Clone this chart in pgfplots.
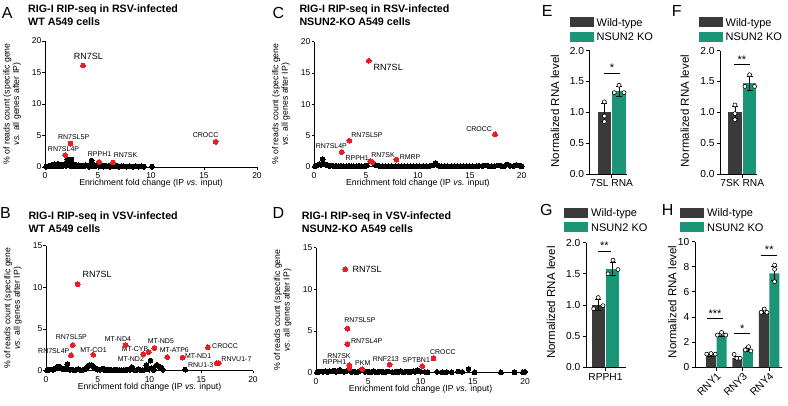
\documentclass[border=0pt]{standalone}
\usepackage{pgfplots}
\pgfplotsset{compat=1.18}
\usepackage{fontspec}
\setmainfont{Liberation Sans}
\definecolor{ptred}{RGB}{237,28,36}
\definecolor{wtgray}{RGB}{58,58,58}
\definecolor{kogreen}{RGB}{26,150,118}
\newcommand{\fs}[1]{\fontsize{#1}{#1}\selectfont}
\tikzset{
  lab/.style={font=\fs{7}, inner sep=0pt},
  big/.style={font=\fs{9}, inner sep=0pt},
}
\pgfplotsset{
  scat/.style={
    scale only axis, axis lines=left, axis line style={-, line width=0.8pt},
    xmin=0, xmax=20, xtick={0,5,10,15,20}, ymin=0,
    tick align=outside, major tick length=2.5pt,
    tick style={black, line width=0.8pt},
    ticklabel style={font=\fs{8.5}, inner sep=1pt},
    xticklabel style={yshift=-2pt},
    /pgf/number format/assume math mode=true,
    clip=false,
    xlabel={Enrichment fold change (IP \textit{vs.} input)},
    xlabel style={font=\fs{8.7}, at={(axis description cs:0.5,0)}, anchor=base, yshift=-18.5pt, inner sep=0pt},
    ylabel={\% of reads count (specific gene\\\textit{vs.} all genes after IP)},
    ylabel style={font=\fontsize{8.7}{9.5}\selectfont, align=center, anchor=center, inner sep=0pt},
  },
  blk/.style={only marks, mark=*, mark size=2.4pt, color=black, mark options={draw=black, fill=black, line width=0pt}},
  rd/.style={only marks, mark=*, mark size=2.4pt, color=ptred, mark options={draw=ptred, fill=ptred, line width=0pt}},
  barax/.style={
    scale only axis, axis lines=left, axis line style={-, line width=0.9pt},
    ymin=0, tick align=outside, major tick length=3.5pt,
    tick style={black, line width=0.9pt},
    ticklabel style={font=\fs{10.2}, inner sep=2pt},
    /pgf/number format/assume math mode=true,
    clip=false,
    ylabel={Normalized RNA level},
    ylabel style={font=\fs{11.5}, anchor=center, inner sep=0pt},
    error bars/error bar style={line width=0.8pt, black},
    error bars/error mark options={rotate=90, mark size=3pt, line width=0.8pt, black},
  },
  wtbar/.style={ybar, bar shift=0pt, fill=wtgray, draw=none, bar width=#1, error bars/.cd, y dir=both, y explicit},
  kobar/.style={ybar, bar shift=0pt, fill=kogreen, draw=none, bar width=#1, error bars/.cd, y dir=both, y explicit},
  dots/.style={only marks, mark=*, mark size=2pt, mark options={fill=white, draw=black, line width=0.6pt}},
}
\begin{document}
\begin{tikzpicture}
\useasboundingbox (0,0) rectangle (788pt,-405pt);
% ---------- Titles and panel letters
\node[anchor=base west, inner sep=0, font=\fs{16}] at (1.7pt,-18.3pt) {A};
\node[anchor=base west, inner sep=0, font=\fs{16}] at (0pt,-218.3pt) {B};
\node[anchor=base west, inner sep=0, font=\fs{16}] at (272.3pt,-18.3pt) {C};
\node[anchor=base west, inner sep=0, font=\fs{16}] at (272.3pt,-218.3pt) {D};
\node[anchor=base west, inner sep=0, font=\fs{16}] at (541.7pt,-16.7pt) {E};
\node[anchor=base west, inner sep=0, font=\fs{16}] at (671.7pt,-16.7pt) {F};
\node[anchor=base west, inner sep=0, font=\fs{16}] at (540pt,-215pt) {G};
\node[anchor=base west, inner sep=0, font=\fs{16}] at (661.7pt,-215pt) {H};
\node[anchor=base west, inner sep=0, font=\bfseries\fs{10.7}] at (28pt,-12.7pt) {RIG-I RIP-seq in RSV-infected};
\node[anchor=base west, inner sep=0, font=\bfseries\fs{10.7}] at (28pt,-25.7pt) {WT A549 cells};
\node[anchor=base west, inner sep=0, font=\bfseries\fs{10.7}] at (28.3pt,-219pt) {RIG-I RIP-seq in VSV-infected};
\node[anchor=base west, inner sep=0, font=\bfseries\fs{10.7}] at (28.3pt,-232pt) {WT A549 cells};
\node[anchor=base west, inner sep=0, font=\bfseries\fs{10.7}] at (299.3pt,-12.7pt) {RIG-I RIP-seq in RSV-infected};
\node[anchor=base west, inner sep=0, font=\bfseries\fs{10.7}] at (299.3pt,-25.7pt) {NSUN2-KO A549 cells};
\node[anchor=base west, inner sep=0, font=\bfseries\fs{10.7}] at (301.7pt,-219.5pt) {RIG-I RIP-seq in VSV-infected};
\node[anchor=base west, inner sep=0, font=\bfseries\fs{10.7}] at (301.7pt,-232.5pt) {NSUN2-KO A549 cells};
% ---------- Legends
\foreach \bx/\tx/\ya/\yb in {570/596.5/17/27, 699/725.5/17/27, 564.3/591/207.7/217.7, 680/707/207.7/217.7}{
  \fill[wtgray] (\bx pt,-\ya pt) rectangle ({\bx pt+24pt},-\yb pt);
  \fill[kogreen] ({\bx pt},{-\ya pt-14.5pt}) rectangle ({\bx pt+24pt},{-\yb pt-14.5pt});
  \node[anchor=base west, inner sep=0, font=\fs{11}] at (\tx pt,{-\yb pt+1pt}) {Wild-type};
  \node[anchor=base west, inner sep=0, font=\fs{11}] at (\tx pt,{-\yb pt-13.5pt}) {NSUN2 KO};
}
% ---------- Panel A
\begin{axis}[scat, at={(45pt,-167pt)}, anchor=south west, width=212pt, height=126pt,
  ymax=20, ytick={0,5,10,15,20}, ylabel style={at={(axis description cs:-0.155,0.5)}}]
\addplot[blk] coordinates {(0.1,0.05) (0.3,0.15) (0.5,0.1) (0.6,0.3) (0.8,0.2) (0.9,0.45) (1.0,0.1) (1.1,0.35) (1.2,0.5) (1.3,0.2) (1.45,0.4) (1.6,0.1) (1.7,0.3) (1.85,0.45) (2.0,0.2) (2.1,1.2) (2.15,0.5) (2.3,0.3) (2.45,0.1) (2.5,1.2) (2.6,0.4) (2.75,0.2) (2.9,0.35) (3.05,0.1) (3.2,0.3) (3.35,0.15) (3.5,0.25) (3.7,0.1) (3.85,0.3) (4.0,0.2) (4.15,0.05) (4.3,0.25) (4.4,1.0) (4.5,0.1) (4.65,0.3) (4.8,0.15) (5.0,0.3) (5.2,0.1) (5.35,0.2) (5.5,0.05) (5.65,0.25) (5.8,0.1) (6.0,0.2) (6.15,0.05) (6.35,0.15) (6.6,0.1) (6.8,0.2) (7.0,0.05) (7.2,0.15) (7.45,0.1) (7.7,0.05) (8.0,0.1) (8.3,0.05) (8.55,0.1) (8.8,0.05) (9.1,0.1) (9.35,0.05) (10.1,0.05)};
\addplot[rd] coordinates {(3.6,16.1) (2.4,3.7) (1.9,1.9) (5.1,0.8) (6.4,0.7) (16.1,4.0)};
\node[big] at (axis cs:4.1,17.5) {RN7SL};
\node[lab] at (axis cs:2.7,4.8) {RN7SL5P};
\node[lab] at (axis cs:1.75,2.86) {RN7SL4P};
\node[lab] at (axis cs:5.15,2.0) {RPPH1};
\node[lab] at (axis cs:7.6,1.85) {RN7SK};
\node[lab] at (axis cs:15.15,5.0) {CROCC};
\end{axis}
% ---------- Panel B
\begin{axis}[scat, at={(46pt,-370.7pt)}, anchor=south west, width=207pt, height=125pt,
  ymax=15, ytick={0,5,10,15}, ylabel style={at={(axis description cs:-0.16,0.5)}}]
\addplot[blk] coordinates {(0.1,0.05) (0.3,0.1) (0.5,0.15) (0.7,0.1) (0.9,0.3) (1.05,0.45) (1.2,0.5) (1.35,0.4) (1.5,0.3) (1.65,0.15) (1.8,0.2) (2.06,0.77) (2.1,0.2) (2.3,0.1) (2.5,0.15) (2.7,0.05) (2.9,0.1) (3.1,0.2) (3.3,0.1) (3.5,0.05) (3.7,0.15) (3.9,0.3) (4.05,0.55) (4.2,0.7) (4.35,0.65) (4.5,0.6) (4.65,0.4) (4.8,0.25) (5.0,0.15) (5.2,0.1) (5.5,0.25) (5.7,0.05) (5.9,0.15) (6.1,0.05) (6.3,0.1) (6.5,0.05) (6.7,0.15) (6.9,0.05) (7.1,0.1) (7.3,0.05) (7.5,0.1) (7.7,0.05) (7.9,0.15) (8.1,0.1) (8.3,0.45) (8.5,0.1) (8.7,0.05) (8.9,0.2) (9.1,0.1) (9.3,0.05) (9.5,0.1) (9.7,0.67) (9.85,0.15) (10.1,1.2) (10.2,0.3) (10.4,0.1) (10.6,0.6) (10.75,0.7) (10.9,0.55) (11.05,0.4) (11.2,0.25) (11.3,0.1) (13.45,0.13)};
\addplot[rd] coordinates {(3.06,10.37) (2.58,3.08) (2.42,1.85) (4.57,1.92) (7.7,3.08) (9.4,2.0) (9.94,2.24) (10.47,2.72) (11.72,1.64) (13.2,1.56) (15.65,2.84) (16.5,0.92) (16.7,0.92)};
\node[big] at (axis cs:4.95,11.5) {RN7SL};
\node[lab] at (axis cs:2.45,4.08) {RN7SL5P};
\node[lab] at (axis cs:0.75,2.33) {RN7SL4P};
\node[lab] at (axis cs:4.6,2.52) {MT-CO1};
\node[lab] at (axis cs:6.95,3.8) {MT-ND4};
\node[lab] at (axis cs:8.6,2.6) {MT-CYB};
\node[lab] at (axis cs:11.1,3.6) {MT-ND5};
\node[lab] at (axis cs:8.2,1.37) {MT-ND2};
\node[lab] at (axis cs:12.4,2.45) {MT-ATP6};
\node[lab] at (axis cs:14.7,1.73) {MT-ND1};
\node[lab] at (axis cs:17.3,2.96) {CROCC};
\node[lab] at (axis cs:18.4,1.4) {RNVU1-7};
\node[lab] at (axis cs:14.95,0.68) {RNU1-3};
\end{axis}
% ---------- Panel C
\begin{axis}[scat, at={(314pt,-166.7pt)}, anchor=south west, width=207.7pt, height=125pt,
  ymax=20, ytick={0,5,10,15,20}, ylabel style={at={(axis description cs:-0.16,0.5)}}]
\addplot[blk] coordinates {(0.1,0.05) (0.3,0.2) (0.5,0.4) (0.65,0.3) (0.83,1.2) (0.9,0.45) (1.1,0.35) (1.3,0.2) (1.5,0.1) (1.7,0.2) (1.9,0.1) (2.1,0.15) (2.35,0.05) (2.6,0.15) (2.85,0.1) (3.1,0.05) (3.35,0.15) (3.6,0.1) (3.85,0.05) (4.1,0.1) (4.35,0.15) (4.6,0.05) (4.85,0.1) (5.1,0.2) (5.8,0.4) (6.0,0.2) (6.3,0.1) (6.6,0.05) (6.9,0.1) (7.2,0.05) (7.5,0.1) (7.8,0.05) (8.1,0.1) (8.4,0.05) (8.7,0.1) (9.0,0.05) (9.3,0.1) (9.6,0.05) (9.9,0.1) (10.2,0.05) (10.5,0.1) (10.8,0.05) (11.1,0.1) (11.4,0.2) (11.7,0.6) (12.0,0.15) (12.3,0.05) (12.6,0.1) (12.9,0.05) (13.2,0.1) (13.5,0.05) (13.8,0.1) (14.1,0.05) (14.4,0.1) (14.7,0.05) (15.0,0.1) (15.3,0.05) (15.6,0.1) (15.9,0.15) (16.2,0.1) (16.5,0.2) (16.8,0.1) (17.1,0.05) (17.4,0.1) (17.7,0.2) (18.0,0.15) (18.3,0.1) (18.6,0.35) (18.9,0.15) (19.2,0.1) (19.5,0.3) (19.8,0.2) (20.0,0.05)};
\addplot[rd] coordinates {(5.27,16.96) (3.4,4.16) (2.67,2.35) (5.4,0.91) (5.6,0.75) (7.93,1.12) (17.44,5.18)};
\node[big] at (axis cs:7.15,15.85) {RN7SL};
\node[lab] at (axis cs:5.1,5.12) {RN7SL5P};
\node[lab] at (axis cs:1.67,3.36) {RN7SL4P};
\node[lab] at (axis cs:4.16,1.34) {RPPH1};
\node[lab] at (axis cs:6.65,1.82) {RN7SK};
\node[lab] at (axis cs:9.25,1.6) {RMRP};
\node[lab] at (axis cs:15.9,5.98) {CROCC};
\end{axis}
% ---------- Panel D
\begin{axis}[scat, at={(316pt,-372.7pt)}, anchor=south west, width=209pt, height=125pt,
  ymax=15, ytick={0,5,10,15}, ylabel style={at={(axis description cs:-0.16,0.5)}}]
\addplot[blk] coordinates {(0.1,0.05) (0.3,0.1) (0.5,0.15) (0.7,0.1) (0.9,0.2) (1.1,0.1) (1.3,0.2) (1.5,0.15) (1.7,0.25) (1.9,0.1) (2.1,0.2) (2.3,0.35) (2.5,0.15) (2.7,0.1) (2.9,0.2) (3.4,0.1) (3.6,0.15) (3.8,0.05) (4.0,0.1) (4.2,0.2) (4.7,0.1) (4.9,0.15) (5.1,0.05) (5.3,0.1) (5.5,0.2) (5.7,0.1) (5.9,0.05) (6.1,0.15) (6.3,0.1) (6.5,0.05) (6.7,0.1) (6.9,0.15) (7.3,0.1) (7.5,0.05) (7.7,0.15) (7.9,0.1) (8.1,0.2) (8.3,0.05) (8.5,0.1) (8.7,0.15) (8.9,0.05) (9.1,0.1) (9.3,0.2) (9.5,0.1) (9.7,0.3) (9.9,0.15) (10.4,0.1) (10.7,0.05) (11.6,0.1) (12.1,0.05) (12.5,0.1) (13.0,0.05) (13.6,0.15) (14.0,0.1) (14.6,0.45) (15.2,0.05) (17.7,0.05) (19.0,0.05) (19.8,0.05) (20.0,0.1)};
\addplot[rd] coordinates {(2.8,12.41) (3.0,5.28) (3.0,3.44) (3.18,0.92) (3.2,0.56) (4.43,0.44) (7.05,0.96) (10.16,0.8) (11.25,1.72)};
\node[big] at (axis cs:4.9,12.4) {RN7SL};
\node[lab] at (axis cs:4.2,6.3) {RN7SL5P};
\node[lab] at (axis cs:4.85,3.84) {RN7SL4P};
\node[lab] at (axis cs:2.2,2.04) {RN7SK};
\node[lab] at (axis cs:1.77,1.32) {RPPH1};
\node[lab] at (axis cs:4.48,1.13) {PKM};
\node[lab] at (axis cs:6.68,1.68) {RNF213};
\node[lab] at (axis cs:9.6,1.5) {SPTBN1};
\node[lab] at (axis cs:12.15,2.52) {CROCC};
\end{axis}
% ---------- Panel E
\begin{axis}[barax, at={(589.7pt,-174pt)}, anchor=south west, width=37pt, height=123.3pt,
  xmin=-22, xmax=15, ymax=2, ytick={0,0.5,1,1.5,2},
  yticklabel style={/pgf/number format/.cd, fixed, fixed zerofill, precision=1},
  xtick={0}, xticklabels={7SL RNA}, ylabel style={at={(axis description cs:-0.94,0.51)}}]
\addplot[wtbar=13.3pt] coordinates {(-7.35,1.0) +- (0,0.15)};
\addplot[kobar=13.3pt] coordinates {(7.3,1.34) +- (0,0.08)};
\addplot[dots] coordinates {(-7.35,1.17) (-7.35,0.94) (-7.35,0.85) (7.3,1.44) (2.6,1.32) (12.3,1.32)};
\draw[line width=0.8pt] (axis cs:-8,1.63) -- (axis cs:8.6,1.63);
\node[font=\fs{11}, inner sep=0, anchor=base] at (axis cs:0.3,1.655) {*};
\end{axis}
% ---------- Panel F
\begin{axis}[barax, at={(720.3pt,-174pt)}, anchor=south west, width=37pt, height=123.3pt,
  xmin=-22, xmax=15, ymax=2, ytick={0,0.5,1,1.5,2},
  yticklabel style={/pgf/number format/.cd, fixed, fixed zerofill, precision=1},
  xtick={0}, xticklabels={7SK RNA}, ylabel style={at={(axis description cs:-0.96,0.51)}}]
\addplot[wtbar=13.3pt] coordinates {(-7.35,1.0) +- (0,0.1)};
\addplot[kobar=13.3pt] coordinates {(7.3,1.47) +- (0,0.11)};
\addplot[dots] coordinates {(-7.35,1.12) (-7.35,0.98) (-7.35,0.88) (7.3,1.61) (2.6,1.42) (12.3,1.42)};
\draw[line width=0.8pt] (axis cs:-8.4,1.77) -- (axis cs:7.6,1.77);
\node[font=\fs{11}, inner sep=0, anchor=base] at (axis cs:-0.4,1.795) {**};
\end{axis}
% ---------- Panel G
\begin{axis}[barax, at={(586pt,-367.3pt)}, anchor=south west, width=40pt, height=124.6pt,
  xmin=-19.5, xmax=20.5, ymax=2, ytick={0,0.5,1,1.5,2},
  yticklabel style={/pgf/number format/.cd, fixed, fixed zerofill, precision=1},
  xtick={0}, xticklabels={RPPH1}, ylabel style={at={(axis description cs:-0.875,0.52)}}]
\addplot[wtbar=13.3pt] coordinates {(-7.3,1.0) +- (0,0.09)};
\addplot[kobar=13.3pt] coordinates {(7.3,1.58) +- (0,0.1)};
\addplot[dots] coordinates {(-7.3,1.12) (-11.8,0.94) (-2.5,0.99) (7.5,1.72) (2.5,1.50) (12.5,1.57)};
\draw[line width=0.8pt] (axis cs:-7.8,1.86) -- (axis cs:5.5,1.86);
\node[font=\fs{11}, inner sep=0, anchor=base] at (axis cs:-1.2,1.885) {**};
\end{axis}
% ---------- Panel H
\begin{axis}[barax, at={(695pt,-367.3pt)}, anchor=south west, width=87pt, height=125.6pt,
  xmin=-21.2, xmax=65.5, ymax=10, ytick={0,2,4,6,8,10},
  xtick={0,26.3,52.6}, xticklabels={RNY1,RNY3,RNY4},
  xticklabel style={rotate=45, anchor=north east, inner sep=0.5pt, font=\fs{10.5}},
  ylabel style={at={(axis description cs:-0.26,0.52)}}]
\addplot[wtbar=10pt] coordinates {(-5.25,0.95) +- (0,0.08) (21.05,0.75) +- (0,0.15) (47.35,4.4) +- (0,0.12)};
\addplot[kobar=10pt] coordinates {(5.25,2.6) +- (0,0.12) (31.55,1.42) +- (0,0.15) (57.85,7.48) +- (0,0.55)};
\addplot[dots] coordinates {(-9.5,1.05) (-5.25,1.1) (-1,1.05) (1,2.57) (5.25,2.78) (9.5,2.57)
  (17.8,1.03) (20.5,0.72) (23.8,0.72) (28.8,1.38) (32.1,1.64) (34.5,1.3)
  (44.8,4.38) (47.8,4.64) (50.5,4.38) (58.1,8.14) (58.1,7.8) (58.1,6.82)};
\draw[line width=0.8pt] (axis cs:-9.2,3.9) -- (axis cs:6.8,3.9);
\node[font=\fs{11}, inner sep=0, anchor=base] at (axis cs:-1.2,4.0) {***};
\draw[line width=0.8pt] (axis cs:17.8,2.68) -- (axis cs:33.8,2.68);
\node[font=\fs{11}, inner sep=0, anchor=base] at (axis cs:25.8,2.78) {*};
\draw[line width=0.8pt] (axis cs:44.8,8.94) -- (axis cs:60.8,8.94);
\node[font=\fs{11}, inner sep=0, anchor=base] at (axis cs:52.8,9.04) {**};
\end{axis}
\end{tikzpicture}
\end{document}
